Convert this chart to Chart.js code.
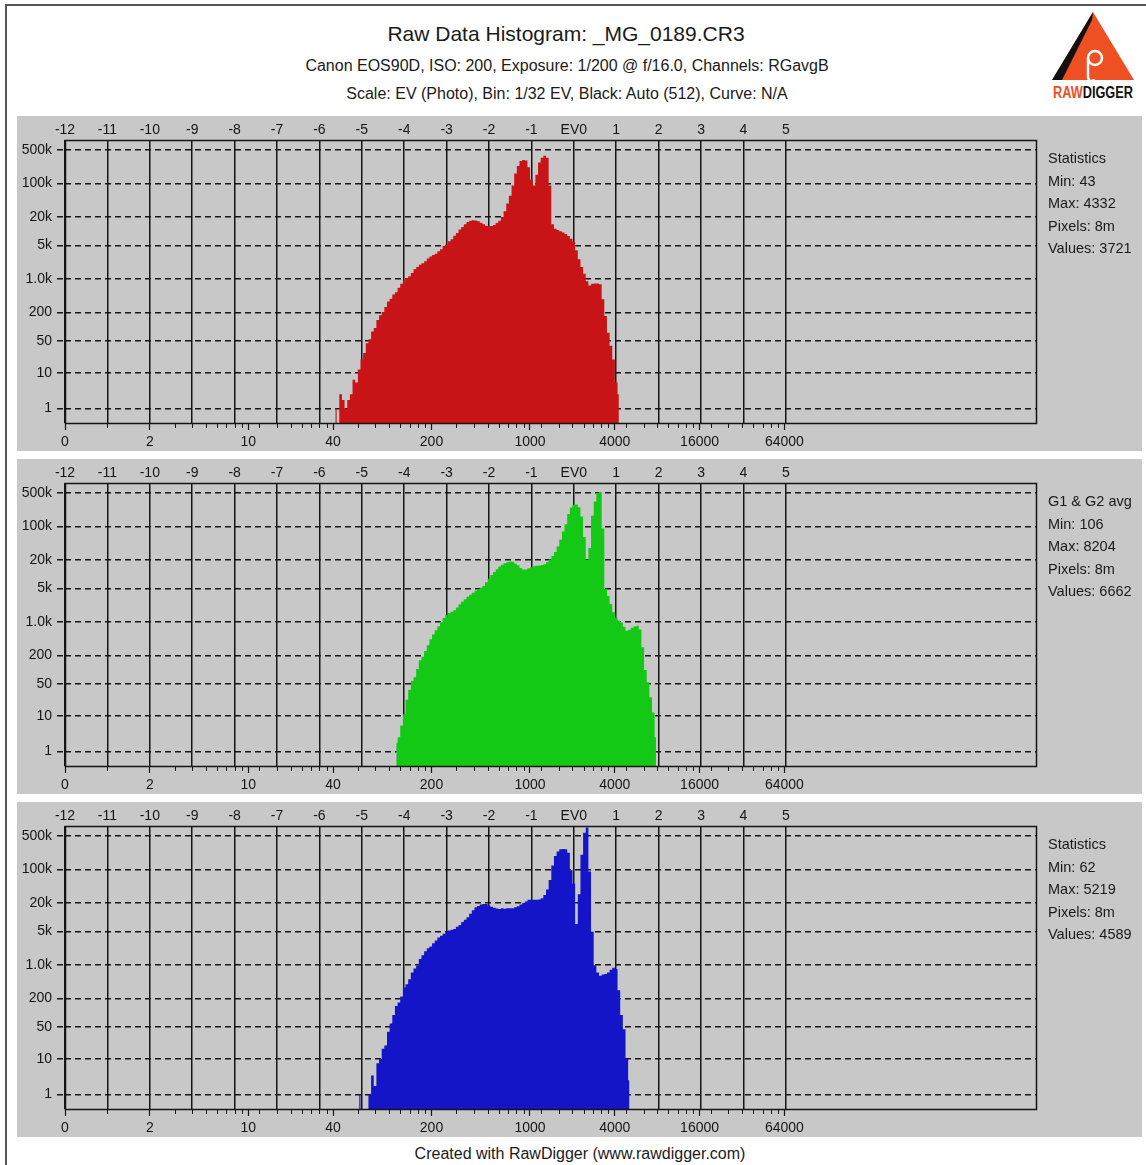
<!DOCTYPE html>
<html>
<head>
<meta charset="utf-8">
<title>Raw Data Histogram: _MG_0189.CR3</title>
<script src="https://cdn.jsdelivr.net/npm/chart.js@4.4.1/dist/chart.umd.min.js"></script>
<style>
  html, body { margin: 0; padding: 0; background: #fff; }
  body { width: 1146px; height: 1165px; position: relative; overflow: hidden;
         font-family: "Liberation Sans", Arial, sans-serif; color: #1a1a1a; }
  .frame { position: absolute; left: 5px; top: 4px; width: 1300px; height: 1300px;
           border-left: 2px solid #555; border-top: 2px solid #555; }
  .line { position: absolute; width: 1000px; text-align: center; white-space: nowrap; }
  .panel { position: absolute; left: 17px; width: 1125px; height: 335px; background: #c8c8c8; }
  .panel canvas { position: absolute; left: 0; top: 0; }
  .stats { position: absolute; left: 1031px; top: 31px; font-size: 14.5px; line-height: 22.6px; }
  .logo { position: absolute; left: 1048px; top: 8px; }
</style>
</head>
<body>
<div class="frame"></div>

<div class="line" style="left:66px; top:22px; font-size:21px;">Raw Data Histogram: _MG_0189.CR3</div>
<div class="line" style="left:67px; top:57px; font-size:16px;">Canon EOS90D, ISO: 200, Exposure: 1/200 @ f/16.0, Channels: RGavgB</div>
<div class="line" style="left:67px; top:85px; font-size:16px;">Scale: EV (Photo), Bin: 1/32 EV, Black: Auto (512), Curve: N/A</div>

<svg class="logo" width="90" height="96" viewBox="0 0 90 96">
  <polygon points="45,4 4,72 86,72" fill="#ee4f23"/>
  <polygon points="45,4 4,72 14,72 44,12" fill="#111"/>
  <circle cx="47" cy="50" r="7" fill="none" stroke="#fff" stroke-width="2.5"/>
  <path d="M40,50 L40,68 Q40,75 47,72" fill="none" stroke="#fff" stroke-width="2.5"/>
  <text x="45" y="90" text-anchor="middle" font-family="'Liberation Sans Narrow','Liberation Sans',sans-serif"
        font-weight="bold" font-size="16" textLength="80" lengthAdjust="spacingAndGlyphs"><tspan fill="#ee4f23">RAW</tspan><tspan fill="#111">DIGGER</tspan></text>
</svg>

<div class="panel" style="top:116px;"><canvas id="chartR" width="1125" height="335"></canvas><div class="stats" id="statsR"></div></div>
<div class="panel" style="top:459px;"><canvas id="chartG" width="1125" height="335"></canvas><div class="stats" id="statsG"></div></div>
<div class="panel" style="top:802px;"><canvas id="chartB" width="1125" height="335"></canvas><div class="stats" id="statsB"></div></div>

<div class="line" style="left:80px; top:1145px; font-size:16px;">Created with RawDigger (www.rawdigger.com)</div>

<script>
// histogram bins are 1/16 EV wide, first bin index per channel (bin * 1/16 = EV)
const BIN = 1 / 16;
const EV0_RAW = 2048;
const X_MIN = -12, X_MAX = 10.9;

const redStart = -90;
const redCounts = [
  1, 0, 3, 2, 1, 2, 3, 7, 6, 12,
  20, 28, 45, 55, 80, 95, 140, 175, 205, 260,
  340, 390, 480, 530, 660, 800, 950, 1050, 1150, 1350,
  1600, 1800, 2000, 2150, 2350, 2700, 2950, 3200, 3400, 3800,
  4200, 4900, 5300, 6200, 6800, 8000, 9200, 10800, 12300, 14000,
  15500, 16500, 17000, 16700, 16200, 15000, 14000, 13000, 12700, 12900,
  13400, 14800, 16500, 19800, 26000, 38000, 55000, 90000, 160000, 230000,
  290000, 305000, 300000, 215000, 120000, 90000, 150000, 270000, 340000, 375000,
  340000, 90000, 14000, 11300, 10600, 10000, 9400, 8700, 7900, 7000,
  6000, 4000, 2600, 1800, 1300, 900, 740, 800, 810, 810,
  780, 380, 170, 75, 40, 20, 6, 3
];

const greenStart = -67;
const greenCounts = [
  2, 3, 6, 11, 23, 38, 58, 70, 105, 160,
  190, 250, 330, 440, 550, 680, 820, 1000, 1220, 1400,
  1550, 1650, 1760, 2030, 2350, 2700, 3000, 3400, 3730, 4100,
  4500, 4900, 5200, 5700, 6800, 8000, 9600, 11100, 12700, 14500,
  15800, 16900, 17700, 18500, 18200, 16800, 15300, 13500, 12600, 12600,
  13300, 14000, 14600, 15000, 15200, 15500, 16200, 17700, 20200, 24000,
  29000, 38000, 52000, 78000, 110000, 180000, 245000, 282000, 285000, 250000,
  160000, 60000, 20000, 35000, 165000, 330000, 500000, 520000, 90000, 5000,
  3500, 2400, 1600, 1250, 1080, 980, 800, 660, 690, 760,
  810, 845, 700, 300, 100, 55, 26, 12, 3
];

const blueStart = -81;
const blueCounts = [
  1, 0, 0, 0, 1, 4, 2, 8, 10, 17,
  20, 40, 60, 90, 140, 166, 220, 340, 400, 510,
  700, 850, 975, 1340, 1600, 1950, 2250, 2450, 2850, 3250,
  3750, 4100, 4500, 4900, 5250, 5450, 5700, 6300, 6900, 7900,
  8800, 10000, 11800, 14000, 16100, 17200, 18300, 18900, 18900, 17400,
  16500, 15700, 15200, 14900, 15300, 15000, 15300, 15400, 15400, 16100,
  17000, 18300, 19800, 21300, 23000, 23200, 23200, 23200, 23500, 24800,
  29000, 38000, 60000, 120000, 190000, 235000, 260000, 265000, 262000, 220000,
  95000, 50000, 7200, 30000, 200000, 580000, 740000, 90000, 5000, 1000,
  700, 600, 640, 650, 700, 800, 880, 830, 300, 90,
  45, 10, 3
];

// tick labels
const evTicks = [-12, -11, -10, -9, -8, -7, -6, -5, -4, -3, -2, -1, 0, 1, 2, 3, 4, 5];
const rawMajor = [0, 2, 10, 40, 200, 1000, 4000, 16000, 64000];
const rawMinor = [1, 3, 4, 5, 6, 7, 8, 9, 12, 16, 20, 24, 28, 32, 36,
  60, 80, 100, 120, 140, 160, 180, 300, 400, 500, 600, 700, 800, 900,
  1200, 1600, 2000, 2400, 2800, 3200, 3600, 4800, 6400, 8000, 9600, 11200, 12800, 14400,
  19200, 25600, 32000, 38400, 44800, 51200, 57600];
const countTicks = [1, 10, 50, 200, 1000, 5000, 20000, 100000, 500000];
const countLabels = ['1', '10', '50', '200', '1.0k', '5k', '20k', '100k', '500k'];

const statsR = ['Statistics', 'Min: 43', 'Max: 4332', 'Pixels: 8m', 'Values: 3721'];
const statsG = ['G1 & G2 avg', 'Min: 106', 'Max: 8204', 'Pixels: 8m', 'Values: 6662'];
const statsB = ['Statistics', 'Min: 62', 'Max: 5219', 'Pixels: 8m', 'Values: 4589'];

const evOf = v => (v === 0 ? X_MIN : Math.log2(v / EV0_RAW));
// counts axis is log(1 + n), so empty bins sit on the baseline
const yOf = n => Math.log1p(n);
const Y_MAX = 13.59;

const INK = '#151515';
const GRID_W = 1.5;
const tickFont = { family: '"Liberation Sans", Arial, sans-serif', size: 14 };

const plotDecor = {
  id: 'plotDecor',
  afterDraw(chart) {
    const ctx = chart.ctx;
    const a = chart.chartArea;
    const sx = chart.scales.x;
    ctx.save();
    ctx.strokeStyle = INK;
    ctx.lineWidth = 1;
    // short ticks for the in-between raw values
    ctx.beginPath();
    rawMinor.forEach(v => {
      const px = Math.round(sx.getPixelForValue(evOf(v))) + 0.5;
      ctx.moveTo(px, a.bottom);
      ctx.lineTo(px, a.bottom + 5);
    });
    ctx.stroke();
    ctx.lineWidth = GRID_W;
    ctx.strokeRect(a.left + 0.5, a.top + 0.5, a.right - a.left, a.bottom - a.top);
    ctx.restore();
  }
};

function makeHistogram(id, counts, start, color) {
  const points = counts.map((n, i) => ({ x: (start + i) * BIN, y: yOf(n) }));
  return new Chart(document.getElementById(id), {
    type: 'line',
    data: {
      datasets: [{
        data: points,
        stepped: 'middle',
        fill: 'origin',
        backgroundColor: color,
        borderWidth: 0,
        pointRadius: 0
      }]
    },
    options: {
      responsive: false,
      animation: false,
      devicePixelRatio: 1,
      layout: { padding: { left: 0, right: 106, top: 0, bottom: 0 } },
      plugins: { legend: { display: false }, tooltip: { enabled: false } },
      scales: {
        x: {
          type: 'linear', position: 'bottom', min: X_MIN, max: X_MAX,
          afterBuildTicks: s => { s.ticks = rawMajor.map(v => ({ value: evOf(v) })); },
          afterFit: s => { s.height = 28; },
          ticks: { autoSkip: false, maxRotation: 0, padding: 4, color: INK, font: tickFont,
                   callback: (v, i) => String(rawMajor[i]) },
          grid: { drawOnChartArea: false, tickLength: 7, tickColor: INK, tickWidth: 1.2 },
          border: { display: false }
        },
        x2: {
          type: 'linear', position: 'top', min: X_MIN, max: X_MAX,
          afterBuildTicks: s => { s.ticks = evTicks.map(v => ({ value: v })); },
          afterFit: s => { s.height = 24; },
          ticks: { autoSkip: false, maxRotation: 0, padding: 1, color: INK, font: tickFont,
                   callback: v => (v === 0 ? 'EV0' : String(v)) },
          grid: { color: INK, lineWidth: GRID_W, drawTicks: false },
          border: { display: false }
        },
        y: {
          type: 'linear', min: 0, max: Y_MAX,
          afterBuildTicks: s => { s.ticks = countTicks.map(v => ({ value: yOf(v) })); },
          afterFit: s => { s.width = 48; },
          ticks: { autoSkip: false, padding: 5, color: INK, font: tickFont,
                   callback: (v, i) => countLabels[i] },
          grid: { color: INK, lineWidth: GRID_W, tickLength: 8, tickColor: INK, tickWidth: GRID_W,
                  tickBorderDash: [6, 4] },
          border: { display: false, dash: [6, 4] }
        }
      }
    },
    plugins: [plotDecor]
  });
}

function fillStats(id, lines) {
  document.getElementById(id).innerHTML = lines.map(t => '<div>' + t.replace('&', '&amp;') + '</div>').join('');
}

makeHistogram('chartR', redCounts, redStart, 'rgb(200, 20, 22)');
makeHistogram('chartG', greenCounts, greenStart, 'rgb(20, 200, 22)');
makeHistogram('chartB', blueCounts, blueStart, 'rgb(20, 20, 200)');
fillStats('statsR', statsR);
fillStats('statsG', statsG);
fillStats('statsB', statsB);
</script>
</body>
</html>
